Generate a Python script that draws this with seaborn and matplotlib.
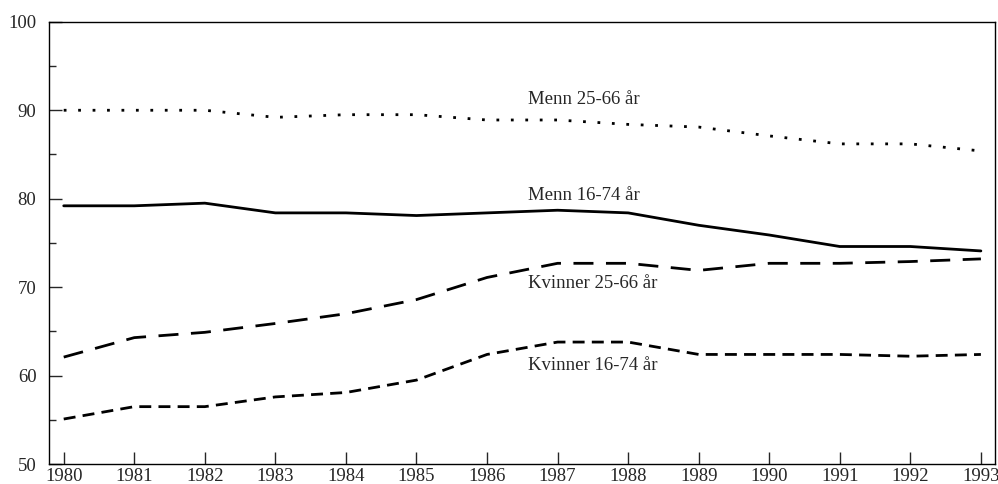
import pandas as pd
import seaborn as sns
import matplotlib.pyplot as plt
from matplotlib.ticker import MultipleLocator

# data
years = list(range(1980, 1994))
menn_25_66 = [90.0, 90.0, 90.0, 89.2, 89.5, 89.5, 88.9, 88.9, 88.4, 88.1, 87.1, 86.2, 86.2, 85.4]
menn_16_74 = [79.2, 79.2, 79.5, 78.4, 78.4, 78.1, 78.4, 78.7, 78.4, 77.0, 75.9, 74.6, 74.6, 74.1]
kvinner_25_66 = [62.1, 64.3, 64.9, 65.9, 67.0, 68.6, 71.1, 72.7, 72.7, 71.9, 72.7, 72.7, 72.9, 73.2]
kvinner_16_74 = [55.1, 56.5, 56.5, 57.6, 58.1, 59.5, 62.4, 63.8, 63.8, 62.4, 62.4, 62.4, 62.2, 62.4]

labels = ["Menn 25-66 år", "Menn 16-74 år", "Kvinner 25-66 år", "Kvinner 16-74 år"]
label_y = [91.2, 80.4, 70.4, 61.1]
label_x = 1986.58

df = pd.DataFrame({
    "år": years * 4,
    "verdi": menn_25_66 + menn_16_74 + kvinner_25_66 + kvinner_16_74,
    "gruppe": [l for l in labels for _ in years],
})

sns.set_style("ticks")
plt.rcParams['font.family'] = ['Liberation Serif', 'DejaVu Serif']

fig, ax = plt.subplots(figsize=(9.98, 4.84), dpi=100)
fig.subplots_adjust(left=0.049, right=0.997, bottom=0.041, top=0.955)

dashes = {
    "Menn 25-66 år": (1, 4.2),
    "Menn 16-74 år": "",
    "Kvinner 25-66 år": (7.2, 4.5),
    "Kvinner 16-74 år": (4.3, 2.6),
}
sns.lineplot(data=df, x="år", y="verdi", style="gruppe", dashes=dashes,
             color="black", linewidth=2, legend=False, ax=ax)

for lab, y in zip(labels, label_y):
    ax.text(label_x, y, lab, fontsize=13.5, va="center", ha="left")

ax.set_xlim(1979.79, 1993.2)
ax.set_ylim(50, 100)
ax.set_xticks(years)
ax.yaxis.set_major_locator(MultipleLocator(10))
ax.yaxis.set_minor_locator(MultipleLocator(5))
ax.tick_params(axis='both', which='both', direction='in')
ax.tick_params(axis='both', which='major', length=9, width=1, labelsize=13.5)
ax.tick_params(axis='x', which='major', pad=3)
ax.tick_params(axis='y', which='major', pad=9)
ax.tick_params(axis='y', which='minor', length=5, width=1)
ax.tick_params(axis='x', which='minor', length=0)
ax.set_xlabel("")
ax.set_ylabel("")
for s in ax.spines.values():
    s.set_linewidth(1)
    s.set_color("black")

plt.savefig("out.png", dpi=100)
